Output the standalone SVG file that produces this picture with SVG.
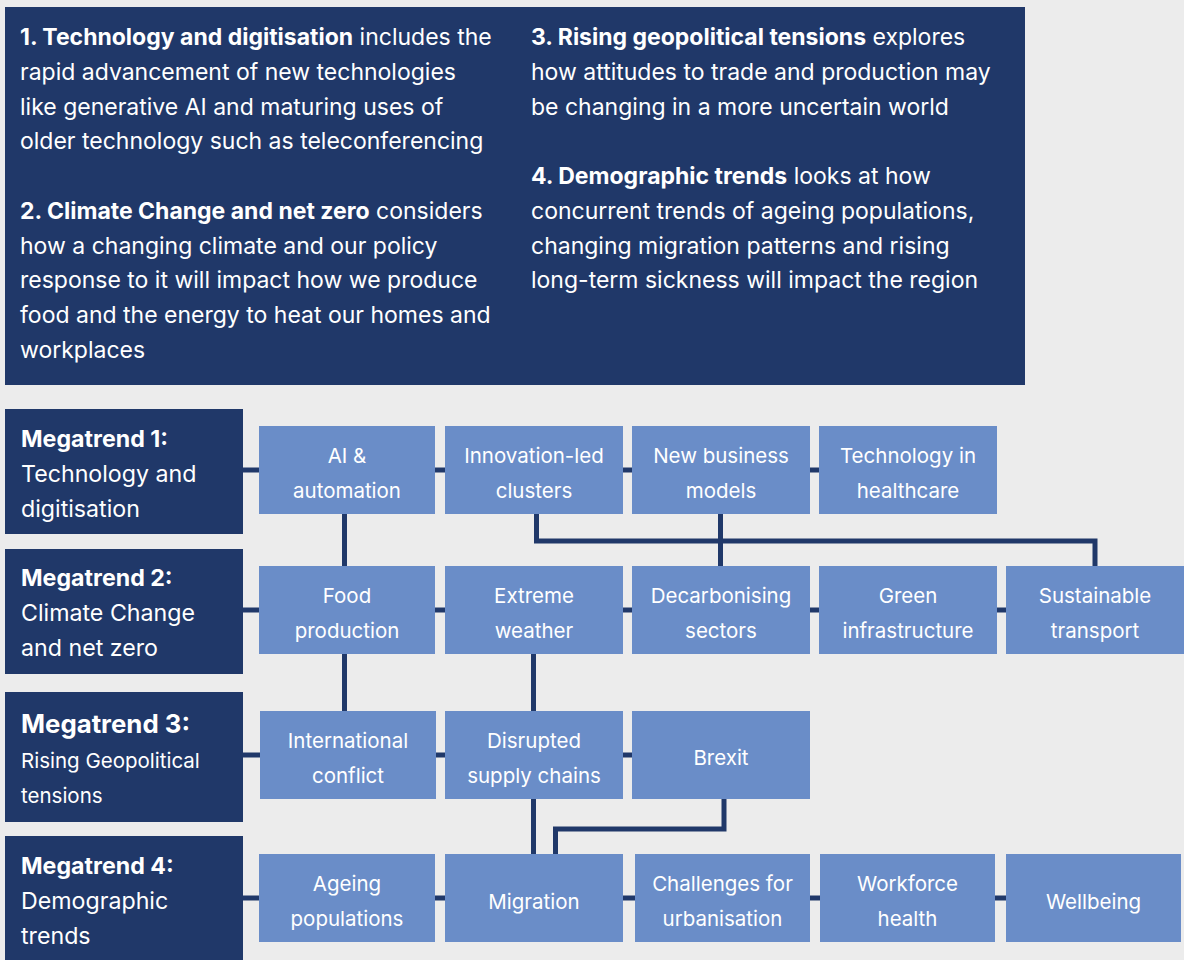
<svg xmlns="http://www.w3.org/2000/svg" width="1184" height="960" viewBox="0 0 1184 960">
<style>
text{font-family:Inter,"Noto Sans","Liberation Sans",sans-serif;fill:#ffffff}
.intro{font-size:23px}
.b{font-weight:700}
.mt{font-size:23.2px}
.mt3h{font-size:25.8px;font-weight:700}
.mt3{font-size:20.5px}
.nb{fill:#203869}
.lb{fill:#6a8dc8}
.sub{font-size:20.5px;text-anchor:middle}
.conn{stroke:#203869;stroke-width:5;fill:none}
</style>
<rect width="1184" height="960" fill="#ececec"/>
<g id="intro">
<rect x="5" y="7" width="1020" height="378" class="nb"/>
<text class="intro" x="20" y="45"><tspan class="b">1. Technology and digitisation</tspan> includes the</text>
<text class="intro" x="20" y="80">rapid advancement of new technologies</text>
<text class="intro" x="20" y="115">like generative AI and maturing uses of</text>
<text class="intro" x="20" y="149">older technology such as teleconferencing</text>
<text class="intro" x="20" y="219"><tspan class="b">2. Climate Change and net zero</tspan> considers</text>
<text class="intro" x="20" y="254">how a changing climate and our policy</text>
<text class="intro" x="20" y="288">response to it will impact how we produce</text>
<text class="intro" x="20" y="323">food and the energy to heat our homes and</text>
<text class="intro" x="20" y="358">workplaces</text>
<text class="intro" x="531" y="45"><tspan class="b">3. Rising geopolitical tensions</tspan> explores</text>
<text class="intro" x="531" y="80">how attitudes to trade and production may</text>
<text class="intro" x="531" y="115">be changing in a more uncertain world</text>
<text class="intro" x="531" y="184"><tspan class="b">4. Demographic trends</tspan> looks at how</text>
<text class="intro" x="531" y="219">concurrent trends of ageing populations,</text>
<text class="intro" x="531" y="254">changing migration patterns and rising</text>
<text class="intro" x="531" y="288">long-term sickness will impact the region</text>
</g>
<g id="connectors" class="conn">
<line x1="243" y1="470" x2="819" y2="470"/>
<line x1="243" y1="610" x2="1006" y2="610"/>
<line x1="243" y1="755" x2="632" y2="755"/>
<line x1="243" y1="898" x2="1006" y2="898"/>
<line x1="344.5" y1="514" x2="344.5" y2="566"/>
<line x1="344.5" y1="654" x2="344.5" y2="711"/>
<line x1="533.5" y1="654" x2="533.5" y2="711"/>
<line x1="533.5" y1="799" x2="533.5" y2="854"/>
<line x1="720.5" y1="514" x2="720.5" y2="566"/>
<polyline points="536.5,514 536.5,541 1095,541 1095,566"/>
<polyline points="724,799 724,829 555.5,829 555.5,854"/>
</g>
<g id="mt1"><rect x="5" y="409" width="238" height="125" class="nb"/>
<text class="mt" x="21" y="447"><tspan class="b">Megatrend 1:</tspan></text>
<text class="mt" x="21" y="482">Technology and</text>
<text class="mt" x="21" y="517">digitisation</text></g>
<g id="mt2"><rect x="5" y="549" width="238" height="125" class="nb"/>
<text class="mt" x="21" y="586"><tspan class="b">Megatrend 2:</tspan></text>
<text class="mt" x="21" y="621">Climate Change</text>
<text class="mt" x="21" y="656">and net zero</text></g>
<g id="mt3"><rect x="5" y="692" width="238" height="130" class="nb"/>
<text class="mt3h" x="21" y="733">Megatrend 3:</text>
<text class="mt3" x="21" y="768">Rising Geopolitical</text>
<text class="mt3" x="21" y="803">tensions</text></g>
<g id="mt4"><rect x="5" y="836" width="238" height="124" class="nb"/>
<text class="mt" x="21" y="874"><tspan class="b">Megatrend 4:</tspan></text>
<text class="mt" x="21" y="909">Demographic</text>
<text class="mt" x="21" y="944">trends</text></g>
<g id="ai"><rect x="259" y="426" width="176" height="88" class="lb"/><text class="sub" x="347" y="463">AI &amp;</text><text class="sub" x="347" y="498">automation</text></g>
<g id="innovation"><rect x="445" y="426" width="178" height="88" class="lb"/><text class="sub" x="534" y="463">Innovation-led</text><text class="sub" x="534" y="498">clusters</text></g>
<g id="newbusiness"><rect x="632" y="426" width="178" height="88" class="lb"/><text class="sub" x="721" y="463">New business</text><text class="sub" x="721" y="498">models</text></g>
<g id="techhealth"><rect x="819" y="426" width="178" height="88" class="lb"/><text class="sub" x="908" y="463">Technology in</text><text class="sub" x="908" y="498">healthcare</text></g>
<g id="food"><rect x="259" y="566" width="176" height="88" class="lb"/><text class="sub" x="347" y="603">Food</text><text class="sub" x="347" y="638">production</text></g>
<g id="extreme"><rect x="445" y="566" width="178" height="88" class="lb"/><text class="sub" x="534" y="603">Extreme</text><text class="sub" x="534" y="638">weather</text></g>
<g id="decarb"><rect x="632" y="566" width="178" height="88" class="lb"/><text class="sub" x="721" y="603">Decarbonising</text><text class="sub" x="721" y="638">sectors</text></g>
<g id="green"><rect x="819" y="566" width="178" height="88" class="lb"/><text class="sub" x="908" y="603">Green</text><text class="sub" x="908" y="638">infrastructure</text></g>
<g id="sustainable"><rect x="1006" y="566" width="178" height="88" class="lb"/><text class="sub" x="1095" y="603">Sustainable</text><text class="sub" x="1095" y="638">transport</text></g>
<g id="intl"><rect x="260" y="711" width="176" height="88" class="lb"/><text class="sub" x="348" y="748">International</text><text class="sub" x="348" y="783">conflict</text></g>
<g id="disrupted"><rect x="445" y="711" width="178" height="88" class="lb"/><text class="sub" x="534" y="748">Disrupted</text><text class="sub" x="534" y="783">supply chains</text></g>
<g id="brexit"><rect x="632" y="711" width="178" height="88" class="lb"/><text class="sub" x="721" y="765">Brexit</text></g>
<g id="ageing"><rect x="259" y="854" width="176" height="88" class="lb"/><text class="sub" x="347" y="891">Ageing</text><text class="sub" x="347" y="926">populations</text></g>
<g id="migration"><rect x="445" y="854" width="178" height="88" class="lb"/><text class="sub" x="534" y="909">Migration</text></g>
<g id="urban"><rect x="635" y="854" width="175" height="88" class="lb"/><text class="sub" x="722.5" y="891">Challenges for</text><text class="sub" x="722.5" y="926">urbanisation</text></g>
<g id="workforce"><rect x="820" y="854" width="175" height="88" class="lb"/><text class="sub" x="907.5" y="891">Workforce</text><text class="sub" x="907.5" y="926">health</text></g>
<g id="wellbeing"><rect x="1006" y="854" width="175" height="88" class="lb"/><text class="sub" x="1093.5" y="909">Wellbeing</text></g>
</svg>
